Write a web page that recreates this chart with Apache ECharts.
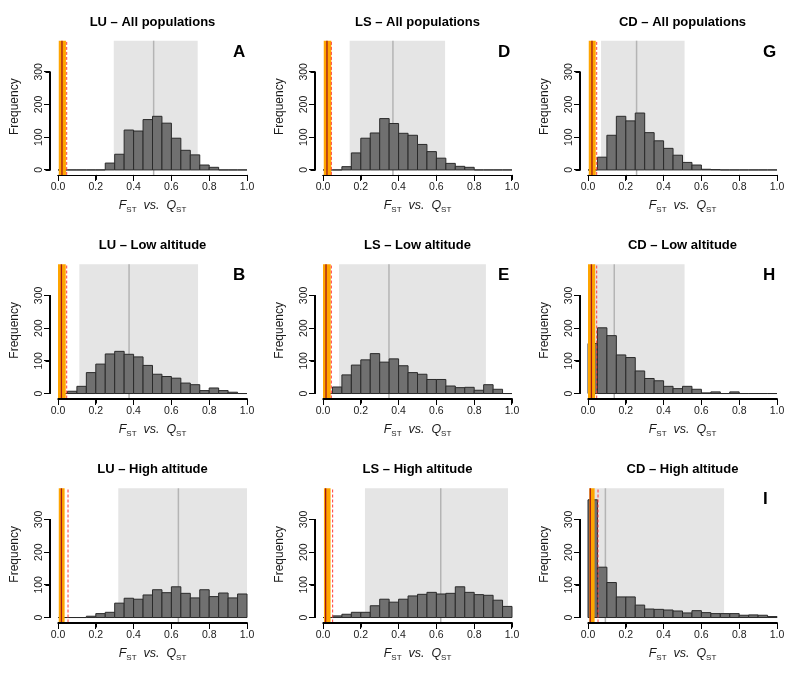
<!DOCTYPE html>
<html><head><meta charset="utf-8">
<script src="https://cdn.jsdelivr.net/npm/echarts@6/dist/echarts.min.js"></script>
<style>html,body{margin:0;padding:0;background:#fff}#c{width:800px;height:673px}</style>
</head><body><div id="c"></div>
<script>
// ---- data ----
const binWidth = 0.05;
const binStarts = [0,0.05,0.10,0.15,0.20,0.25,0.30,0.35,0.40,0.45,0.50,0.55,0.60,0.65,0.70,0.75,0.80,0.85,0.90,0.95];
const countsA = [0,0,0,0,0,21,48,122,119,154,164,143,97,60,46,15,8,0,0,0];
const countsD = [0,0,10,52,97,113,157,142,112,106,78,56,36,20,11,8,0,0,0,0];
const countsG = [0,39,106,164,150,174,114,89,66,45,23,15,2,1,0,0,0,0,0,0];
const countsB = [0,7,22,64,90,121,129,120,112,86,59,52,47,32,27,9,17,9,4,0];
const countsE = [0,20,57,87,103,122,96,106,85,64,59,43,43,23,18,19,10,27,13,0];
const countsH = [153,201,177,118,110,69,46,39,22,15,22,13,2,5,0,5,0,0,0,0];
const countsC = [0,0,0,4,12,16,44,59,56,69,85,76,94,74,60,85,64,75,60,72];
const countsF = [0,5,10,16,16,36,56,47,56,66,71,77,72,74,94,77,70,68,53,34];
const countsI = [360,154,107,63,63,38,26,25,23,20,14,21,15,12,12,12,7,8,7,3];
// panels in row-major order
const panelTitles = ['LU – All populations','LS – All populations','CD – All populations',
                     'LU – Low altitude','LS – Low altitude','CD – Low altitude',
                     'LU – High altitude','LS – High altitude','CD – High altitude'];
const panelLetters = ['A','D','G','B','E','H','C','F','I'];
const panelCounts = [countsA,countsD,countsG,countsB,countsE,countsH,countsC,countsF,countsI];
const qstLow    = [0.295,0.141,0.069,0.113,0.085,0.030,0.319,0.222,0.030];
const qstHigh   = [0.739,0.646,0.511,0.741,0.862,0.511,1.000,0.979,0.720];
const qstMedian = [0.506,0.370,0.257,0.376,0.349,0.139,0.637,0.623,0.092];
const fstLow    = [0.004,0.004,0.004,0.000,0.000,0.000,0.004,0.005,0.007];
const fstHigh   = [0.042,0.044,0.041,0.041,0.041,0.038,0.035,0.040,0.035];
const fstMean   = [0.021,0.021,0.021,0.018,0.016,0.018,0.018,0.014,0.012];
const fstUpper  = [0.046,0.044,0.046,0.046,0.044,0.046,0.053,0.051,0.053];
const xTicks = [0,0.2,0.4,0.6,0.8,1.0];
const yTicks = [0,100,200,300];

// ---- layout ----
const colX0 = [58, 323, 588];
const rowTop = [40.7, 264.3, 488.3];
const PX_X = 189, PX_Y = 0.327;
const X_MIN = -0.04, X_MAX = 1.04, Y_MIN = -15.2, Y_MAX = 395.2;
const FONT = '"Liberation Sans", Arial, sans-serif';
const TXT = '#1a1a1a';
const AX = '#000';
const TICK = 5;

const grid = [], xAxis = [], yAxis = [], series = [], graphic = [];

function custom(gi, z, data, renderItem) {
  return { type: 'custom', xAxisIndex: gi, yAxisIndex: gi, silent: true, clip: false, z: z,
           data: data, renderItem: renderItem };
}
function vline(gi, x, color, width, dash, z) {
  return custom(gi, z, [[x]], function (params, api) {
    const p0 = api.coord([api.value(0), Y_MIN]);
    const p1 = api.coord([api.value(0), Y_MAX]);
    return { type: 'line', shape: { x1: p0[0], y1: p0[1], x2: p1[0], y2: p1[1] },
             style: { stroke: color, lineWidth: width, lineDash: dash || null } };
  });
}
function band(gi, lo, hi, color, z, fromZero) {
  return custom(gi, z, [[lo, hi]], function (params, api) {
    const p0 = api.coord([api.value(0), fromZero ? 0 : Y_MIN]);
    const p1 = api.coord([api.value(1), Y_MAX]);
    return { type: 'rect', shape: { x: p0[0], y: p1[1], width: p1[0] - p0[0], height: p0[1] - p1[1] },
             style: { fill: color } };
  });
}

for (let k = 0; k < 9; k++) {
  const r = Math.floor(k / 3), c = k % 3;
  const x0 = colX0[c], top = rowTop[r];
  const gMain = 2 * k, gAx = 2 * k + 1;
  grid.push({ left: x0 + X_MIN * PX_X, top: top, width: (X_MAX - X_MIN) * PX_X, height: (Y_MAX - Y_MIN) * PX_Y });
  grid.push({ left: x0, top: top + (Y_MAX - 300) * PX_Y, width: PX_X, height: 300 * PX_Y });
  xAxis.push({ gridIndex: gMain, type: 'value', min: X_MIN, max: X_MAX, show: false });
  yAxis.push({ gridIndex: gMain, type: 'value', min: Y_MIN, max: Y_MAX, show: false });
  xAxis.push({
    gridIndex: gAx, type: 'value', min: xTicks[0], max: xTicks[xTicks.length - 1], interval: 0.2,
    offset: -Y_MIN * PX_Y, z: 50,
    axisLine: { show: true, onZero: false, lineStyle: { color: AX, width: 1, opacity: 1 } },
    axisTick: { show: true, inside: false, length: TICK, lineStyle: { color: AX, width: 1, opacity: 1 } },
    axisLabel: { fontSize: 10.5, color: TXT, fontFamily: FONT, margin: 7, formatter: v => v.toFixed(1) },
    splitLine: { show: false }
  });
  yAxis.push({
    gridIndex: gAx, type: 'value', min: yTicks[0], max: yTicks[yTicks.length - 1], interval: 100,
    offset: -X_MIN * PX_X, z: 50,
    axisLine: { show: true, onZero: false, lineStyle: { color: AX, width: 1, opacity: 1 } },
    axisTick: { show: true, inside: false, length: TICK, lineStyle: { color: AX, width: 1, opacity: 1 } },
    axisLabel: { fontSize: 10.5, color: TXT, fontFamily: FONT, margin: 6, rotate: 90 },
    splitLine: { show: false }
  });

  // QST confidence band and median
  series.push(band(gMain, qstLow[k], qstHigh[k], '#e5e5e5', 1, true));
  series.push(vline(gMain, qstMedian[k], '#b4b4b4', 1.5, null, 2));
  // histogram bars
  const counts = panelCounts[k];
  series.push(custom(gMain, 3, binStarts.map((s, i) => [s, s + binWidth, counts[i]]), function (params, api) {
    const p0 = api.coord([api.value(0), 0]);
    const p1 = api.coord([api.value(1), api.value(2)]);
    return { type: 'rect', shape: { x: p0[0], y: p1[1], width: p1[0] - p0[0], height: p0[1] - p1[1] },
             style: { fill: '#707070', stroke: '#2a2a2a', lineWidth: 1 } };
  }));
  // FST interval, mean, upper
  series.push(band(gMain, fstLow[k], fstHigh[k], '#ffa500', 4, false));
  series.push(vline(gMain, fstMean[k], '#a01818', 1.3, null, 5));
  series.push(vline(gMain, fstUpper[k], '#ff3b3b', 1, [3, 2], 5));

  // R-style axis frame pieces as thin filled rects, placed through the panel scales
  series.push(custom(gMain, 8, [[xTicks[0], xTicks[xTicks.length - 1]]], function (params, api) {
    const a = api.coord([api.value(0), Y_MIN]), b = api.coord([api.value(1), Y_MIN]);
    return { type: 'rect', shape: { x: a[0] - 0.5, y: Math.round(a[1]), width: b[0] - a[0] + 1, height: 1 },
             style: { fill: AX } };
  }));
  series.push(custom(gMain, 8, xTicks.map(v => [v, 0]), function (params, api) {
    const a = api.coord([api.value(0), Y_MIN]);
    return { type: 'rect', shape: { x: Math.round(a[0] - 0.5), y: Math.round(a[1]), width: 1, height: TICK + 1 },
             style: { fill: AX } };
  }));
  series.push(custom(gMain, 8, [[X_MIN, yTicks[0]], [X_MIN, yTicks[yTicks.length - 1]]].slice(0, 1).map(() => [yTicks[0], yTicks[yTicks.length - 1]]), function (params, api) {
    const a = api.coord([X_MIN, api.value(0)]), b = api.coord([X_MIN, api.value(1)]);
    return { type: 'rect', shape: { x: Math.round(a[0]) - 1, y: b[1] - 0.5, width: 1, height: a[1] - b[1] + 1 },
             style: { fill: AX } };
  }));
  series.push(custom(gMain, 8, yTicks.map(v => [v, 0]), function (params, api) {
    const a = api.coord([X_MIN, api.value(0)]);
    return { type: 'rect', shape: { x: Math.round(a[0]) - 1 - TICK, y: Math.round(a[1] - 0.5), width: TICK + 1, height: 1 },
             style: { fill: AX } };
  }));

  // texts
  graphic.push({ type: 'text', x: x0 + 0.5 * PX_X, y: top - 18.7, silent: true,
    style: { text: panelTitles[k], font: 'bold 13px ' + FONT, fill: '#000', textAlign: 'center', textVerticalAlign: 'middle' } });
  graphic.push({ type: 'text', x: x0 + 175, y: top + 11.5, silent: true,
    style: { text: panelLetters[k], font: 'bold 17px ' + FONT, fill: '#000', textAlign: 'left', textVerticalAlign: 'middle' } });
  graphic.push({ type: 'text', x: x0 - 43, y: top + 66, rotation: Math.PI / 2, silent: true,
    style: { text: 'Frequency', font: '12px ' + FONT, fill: TXT, textAlign: 'center', textVerticalAlign: 'middle' } });
  graphic.push({ type: 'text', x: x0 + 0.5 * PX_X, y: top + 165, silent: true,
    style: { text: '{i|F}{s|ST}{i|  vs.  Q}{s|ST}', font: '12px ' + FONT, fill: TXT,
      textAlign: 'center', textVerticalAlign: 'middle',
      rich: { i: { fontStyle: 'italic', fontSize: 12.5, lineHeight: 16, fontFamily: FONT, fill: TXT, color: TXT },
              s: { fontSize: 8, fontFamily: FONT, verticalAlign: 'bottom', fill: TXT, color: TXT } } } });
}

const chart = echarts.init(document.getElementById('c'), null, { renderer: 'canvas' });
chart.setOption({ animation: false, backgroundColor: '#fff', grid, xAxis, yAxis, series, graphic });
</script>
</body></html>
